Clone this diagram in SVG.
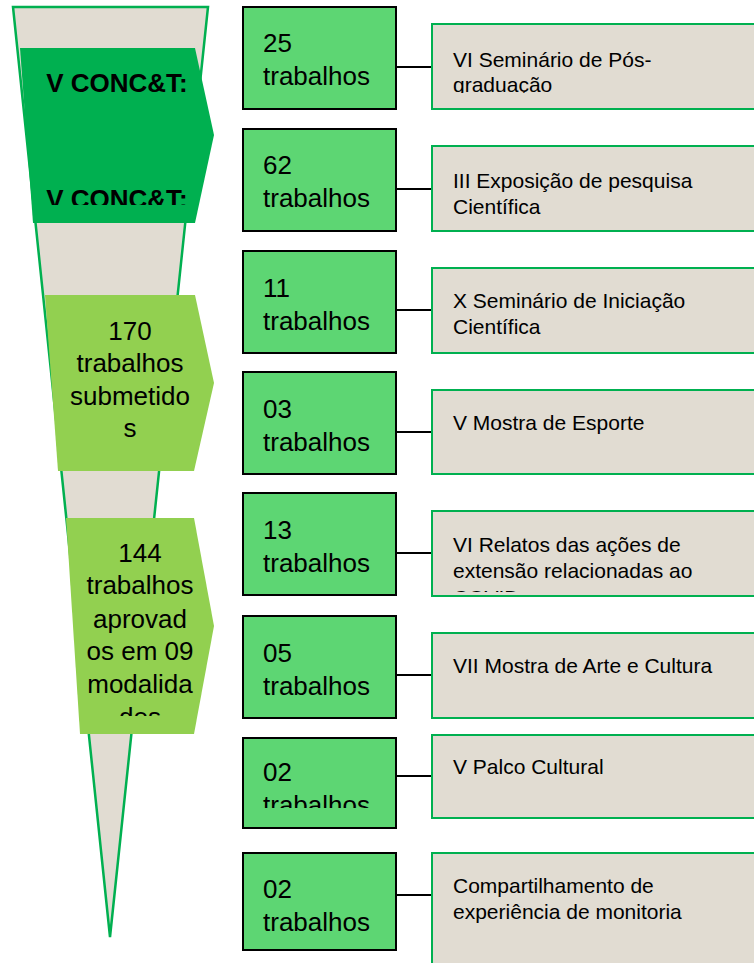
<svg xmlns="http://www.w3.org/2000/svg" width="754" height="963" viewBox="0 0 754 963">
<style>
  text { font-family: "Liberation Sans", Arial, sans-serif; fill: #000; }
  .big { font-size: 26px; }
  .bold { font-size: 26px; font-weight: bold; }
  .mid { font-size: 21px; }
  .gbox { fill: #5DD673; stroke: #000; stroke-width: 2; }
  .bbox { fill: #E1DCD2; stroke: #00B050; stroke-width: 2; }
  .conn { stroke: #000; stroke-width: 2; fill: none; }
</style>
<defs>
  <clipPath id="c-dark"><rect x="0" y="0" width="240" height="205"/></clipPath>
  <clipPath id="c-144"><rect x="0" y="500" width="240" height="216"/></clipPath>
  <clipPath id="c-b1"><rect x="432" y="24" width="330" height="69"/></clipPath>
  <clipPath id="c-b5"><rect x="432" y="511" width="330" height="81"/></clipPath>
  <clipPath id="c-g7"><rect x="243" y="738" width="153" height="70"/></clipPath>
  <clipPath id="c-g8"><rect x="243" y="853" width="153" height="79"/></clipPath>
</defs>

<g id="funnel">
  <polygon points="13,7 208,7 110,937" fill="#E1DCD2" stroke="#00B050" stroke-width="2.5" stroke-linejoin="miter"/>
</g>

<g id="stage-conct">
  <polygon points="20,48 195,48 214,135 195,223 33,223" fill="#00B050"/>
  <g clip-path="url(#c-dark)">
    <text class="bold" x="117" y="92" text-anchor="middle">V CONC&amp;T:</text>
    <text class="bold" x="117" y="208" text-anchor="middle">V CONC&amp;T:</text>
  </g>
</g>

<g id="stage-170">
  <polygon points="45,295 195,295 214,383 194,471 58,471" fill="#92D050"/>
  <text class="big" x="130" y="340" text-anchor="middle">170</text>
  <text class="big" x="130" y="372" text-anchor="middle">trabalhos</text>
  <text class="big" x="130" y="405" text-anchor="middle">submetido</text>
  <text class="big" x="130" y="437" text-anchor="middle">s</text>
</g>

<g id="stage-144">
  <polygon points="66,518 194,518 214,626 194,734 80,734" fill="#92D050"/>
  <g clip-path="url(#c-144)">
    <text class="big" x="140" y="562" text-anchor="middle">144</text>
    <text class="big" x="140" y="594" text-anchor="middle">trabalhos</text>
    <text class="big" x="140" y="628" text-anchor="middle">aprovad</text>
    <text class="big" x="140" y="660" text-anchor="middle">os em 09</text>
    <text class="big" x="140" y="693" text-anchor="middle">modalida</text>
    <text class="big" x="140" y="726" text-anchor="middle">des</text>
  </g>
</g>

<g id="connectors">
  <line class="conn" x1="396" y1="67" x2="432" y2="67"/>
  <line class="conn" x1="396" y1="189" x2="432" y2="189"/>
  <line class="conn" x1="396" y1="310" x2="432" y2="310"/>
  <line class="conn" x1="396" y1="432" x2="432" y2="432"/>
  <line class="conn" x1="396" y1="553" x2="432" y2="553"/>
  <line class="conn" x1="396" y1="675" x2="432" y2="675"/>
  <line class="conn" x1="396" y1="776" x2="432" y2="776"/>
  <line class="conn" x1="396" y1="895" x2="432" y2="895"/>
</g>

<g id="count-25">
  <rect class="gbox" x="243" y="7" width="153" height="102"/>
  <text class="big" x="263" y="52">25</text>
  <text class="big" x="263" y="85">trabalhos</text>
</g>
<g id="mod-pos">
  <rect class="bbox" x="432" y="24" width="330" height="85"/>
  <g clip-path="url(#c-b1)">
    <text class="mid" x="453" y="67">VI Seminário de Pós-</text>
    <text class="mid" x="453" y="92">graduação</text>
  </g>
</g>

<g id="count-62">
  <rect class="gbox" x="243" y="129" width="153" height="102"/>
  <text class="big" x="263" y="174">62</text>
  <text class="big" x="263" y="207">trabalhos</text>
</g>
<g id="mod-expo">
  <rect class="bbox" x="432" y="146" width="330" height="85"/>
  <text class="mid" x="453" y="188">III Exposição de pesquisa</text>
  <text class="mid" x="453" y="214">Científica</text>
</g>

<g id="count-11">
  <rect class="gbox" x="243" y="251" width="153" height="102"/>
  <text class="big" x="263" y="297">11</text>
  <text class="big" x="263" y="330">trabalhos</text>
</g>
<g id="mod-ic">
  <rect class="bbox" x="432" y="268" width="330" height="85"/>
  <text class="mid" x="453" y="308">X Seminário de Iniciação</text>
  <text class="mid" x="453" y="334">Científica</text>
</g>

<g id="count-03">
  <rect class="gbox" x="243" y="372" width="153" height="102"/>
  <text class="big" x="263" y="418">03</text>
  <text class="big" x="263" y="451">trabalhos</text>
</g>
<g id="mod-esporte">
  <rect class="bbox" x="432" y="390" width="330" height="84"/>
  <text class="mid" x="453" y="430">V Mostra de Esporte</text>
</g>

<g id="count-13">
  <rect class="gbox" x="243" y="493" width="153" height="102"/>
  <text class="big" x="263" y="539">13</text>
  <text class="big" x="263" y="572">trabalhos</text>
</g>
<g id="mod-ext">
  <rect class="bbox" x="432" y="511" width="330" height="85"/>
  <g clip-path="url(#c-b5)">
    <text class="mid" x="453" y="552">VI Relatos das ações de</text>
    <text class="mid" x="453" y="578">extensão relacionadas ao</text>
    <text class="mid" x="453" y="605">COVID</text>
  </g>
</g>

<g id="count-05">
  <rect class="gbox" x="243" y="616" width="153" height="102"/>
  <text class="big" x="263" y="662">05</text>
  <text class="big" x="263" y="695">trabalhos</text>
</g>
<g id="mod-arte">
  <rect class="bbox" x="432" y="633" width="330" height="85"/>
  <text class="mid" x="453" y="673">VII Mostra de Arte e Cultura</text>
</g>

<g id="count-02a">
  <rect class="gbox" x="243" y="738" width="153" height="90"/>
  <g clip-path="url(#c-g7)">
    <text class="big" x="263" y="781">02</text>
    <text class="big" x="263" y="814">trabalhos</text>
  </g>
</g>
<g id="mod-palco">
  <rect class="bbox" x="432" y="735" width="330" height="83"/>
  <text class="mid" x="453" y="774">V Palco Cultural</text>
</g>

<g id="count-02b">
  <rect class="gbox" x="243" y="853" width="153" height="97"/>
  <g clip-path="url(#c-g8)">
    <text class="big" x="263" y="898">02</text>
    <text class="big" x="263" y="931">trabalhos</text>
  </g>
</g>
<g id="mod-monitoria">
  <rect class="bbox" x="432" y="853" width="330" height="120"/>
  <text class="mid" x="453" y="893">Compartilhamento de</text>
  <text class="mid" x="453" y="919">experiência de monitoria</text>
</g>
</svg>
